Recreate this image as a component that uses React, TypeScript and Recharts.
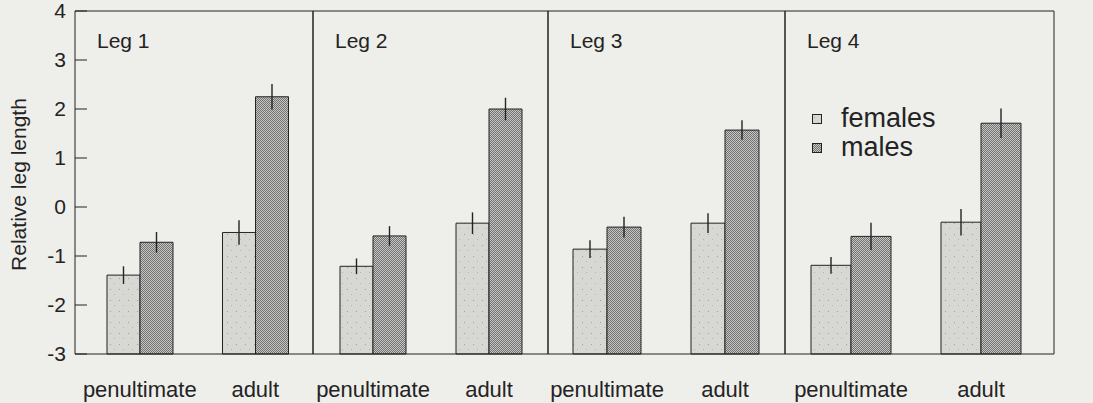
import { BarChart, Bar, XAxis, YAxis, ErrorBar, Legend, Label } from "recharts";

// relative leg length, one row per leg, [penultimate, adult]
const legTitles = ["Leg 1", "Leg 2", "Leg 3", "Leg 4"];
const stages = ["penultimate", "adult"];
const femaleMean = [
  [-1.39, -0.52],
  [-1.21, -0.33],
  [-0.86, -0.33],
  [-1.19, -0.31],
];
const femaleErr = [
  [0.18, 0.25],
  [0.16, 0.22],
  [0.18, 0.2],
  [0.17, 0.27],
];
const maleMean = [
  [-0.72, 2.25],
  [-0.59, 2.0],
  [-0.41, 1.57],
  [-0.6, 1.71],
];
const maleErr = [
  [0.21, 0.26],
  [0.2, 0.23],
  [0.21, 0.2],
  [0.28, 0.3],
];
const yTicks = [-3, -2, -1, 0, 1, 2, 3, 4];
const seriesNames = ["females", "males"];

const ink = "#232323";
const font = "'Liberation Sans', Arial, sans-serif";

// panel geometry (page px); axes need at least 1px or recharts skips them
const panelBox = [
  { left: 0, width: 317, ml: 0, mr: 3, yl: 75, yr: 1, pad: { left: 7, right: 0 }, bar: 33 },
  { left: 309, width: 243, ml: 3, mr: 3, yl: 1, yr: 1, pad: { left: 2, right: 1 }, bar: 33 },
  { left: 544, width: 245, ml: 3, mr: 3, yl: 1, yr: 1, pad: { left: 0, right: 1 }, bar: 34 },
  { left: 781, width: 312, ml: 3, mr: 0, yl: 1, yr: 39, pad: { left: 1, right: 8 }, bar: 40 },
];

const LeftTick = (p: any) => (
  <g>
    <line x1={p.x + 9} x2={p.x + 21} y1={p.y} y2={p.y} stroke={ink} />
    <text x={p.x} y={p.y} dy={7} textAnchor="end" fontSize={21} fill={ink}>
      {p.payload.value}
    </text>
  </g>
);

const RightTick = (p: any) => (
  <g>
    <line x1={p.x - 12} x2={p.x - 24} y1={p.y} y2={p.y} stroke={ink} />
    <text x={p.x} y={p.y} dy={7} textAnchor="start" fontSize={21} fill={ink}>
      {p.payload.value}
    </text>
  </g>
);

const StageTick = (p: any) => (
  <text x={p.x} y={p.y} textAnchor="middle" fontSize={22} fill={ink}>
    {p.payload.value}
  </text>
);

const panelLabel = (title: string, axisTitle: boolean) => (props: any) => {
  const vb = props.viewBox;
  const left = vb.x + vb.width;
  return (
    <g>
      <text x={left + 22} y={vb.y + 37} fontSize={21} fill={ink}>
        {title}
      </text>
      {axisTitle && (
        <text
          transform={`translate(26,${vb.y + vb.height / 2 + 2}) rotate(-90)`}
          textAnchor="middle"
          fontSize={21}
          fill={ink}
        >
          Relative leg length
        </text>
      )}
    </g>
  );
};

const LegendBox = () => (
  <div style={{ fontSize: 27, lineHeight: "29px", color: ink, fontFamily: font }}>
    {seriesNames.map((n, i) => (
      <div key={n} style={{ display: "flex", alignItems: "center", whiteSpace: "nowrap" }}>
        <svg width={10} height={10} style={{ marginRight: 19 }}>
          <rect x={0.5} y={0.5} width={9} height={9} fill={i ? "url(#malePat)" : "url(#femPat)"} stroke={ink} />
        </svg>
        {n}
      </div>
    ))}
  </div>
);

function Panel({ idx }: { idx: number }) {
  const b = panelBox[idx];
  const data = stages.map((s, j) => ({
    stage: s,
    female: [yTicks[0], femaleMean[idx][j]],
    femaleErr: femaleErr[idx][j],
    male: [yTicks[0], maleMean[idx][j]],
    maleErr: maleErr[idx][j],
  }));
  const first = idx === 0;
  const last = idx === legTitles.length - 1;

  return (
    <div style={{ position: "absolute", left: b.left, top: 0 }}>
      <BarChart
        width={b.width}
        height={403}
        data={data}
        margin={{ top: 10, right: b.mr, left: b.ml, bottom: 0 }}
        barGap={0}
        barSize={b.bar}
      >
        <defs>
          <pattern id="malePat" width={2} height={2} patternUnits="userSpaceOnUse">
            <rect width={2} height={2} fill="#c6c6c4" />
            <rect width={1} height={1} fill="#727272" />
            <rect x={1} y={1} width={1} height={1} fill="#727272" />
          </pattern>
          <pattern id="femPat" width={9} height={11} patternUnits="userSpaceOnUse">
            <rect width={9} height={11} fill="#d7d7d3" />
            <rect x={2} y={3} width={1} height={1} fill="#a0a09c" />
            <rect x={6} y={8} width={1} height={1} fill="#b4b4b0" />
          </pattern>
        </defs>
        <XAxis
          dataKey="stage"
          axisLine={{ stroke: ink }}
          tickLine={false}
          tickSize={0}
          tickMargin={43}
          height={49}
          padding={b.pad}
          tick={<StageTick />}
        />
        <XAxis xAxisId="top" orientation="top" height={1} tick={false} tickLine={false} axisLine={{ stroke: ink }} />
        <YAxis
          yAxisId="l"
          type="number"
          domain={[yTicks[0], yTicks[yTicks.length - 1]]}
          ticks={yTicks}
          width={b.yl}
          tickSize={0}
          tickMargin={9}
          tickLine={false}
          axisLine={{ stroke: ink }}
          tick={first ? <LeftTick /> : false}
          label={<Label content={panelLabel(legTitles[idx], first)} />}
        />
        <YAxis
          yAxisId="r"
          orientation="right"
          type="number"
          domain={[yTicks[0], yTicks[yTicks.length - 1]]}
          ticks={yTicks}
          width={b.yr}
          tickSize={0}
          tickMargin={12}
          tickLine={false}
          axisLine={{ stroke: ink }}
          tick={last ? <RightTick /> : false}
        />
        <Bar yAxisId="l" dataKey="female" name="females" fill="url(#femPat)" stroke={ink} strokeWidth={1} isAnimationActive={false}>
          <ErrorBar dataKey="femaleErr" width={0} stroke={ink} strokeWidth={1.4} direction="y" />
        </Bar>
        <Bar yAxisId="l" dataKey="male" name="males" fill="url(#malePat)" stroke={ink} strokeWidth={1} isAnimationActive={false}>
          <ErrorBar dataKey="maleErr" width={0} stroke={ink} strokeWidth={1.4} direction="y" />
        </Bar>
        {last && (
          <Legend
            layout="vertical"
            align="center"
            verticalAlign="middle"
            content={<LegendBox />}
            wrapperStyle={{ left: 31, top: 104, width: 160, height: 60 }}
          />
        )}
      </BarChart>
    </div>
  );
}

export default function App() {
  return (
    <div
      style={{
        position: "absolute",
        left: 0,
        top: 0,
        width: 1093,
        height: 403,
        background: "#eeeeea",
        fontFamily: font,
        overflow: "hidden",
      }}
    >
      {legTitles.map((_, i) => (
        <Panel key={i} idx={i} />
      ))}
    </div>
  );
}
